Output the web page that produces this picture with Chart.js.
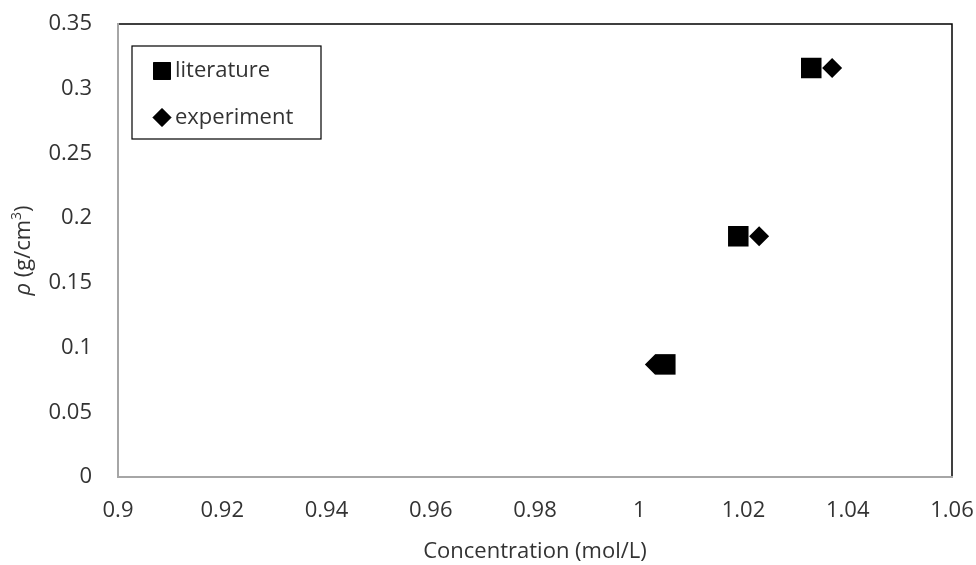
<!DOCTYPE html>
<html>
<head>
<meta charset="utf-8">
<script src="https://cdn.jsdelivr.net/npm/chart.js@4"></script>
<style>
  html, body { margin: 0; padding: 0; background: #fff; }
  #wrap { width: 976px; height: 565px; }
</style>
</head>
<body>
<div id="wrap"><canvas id="chart" width="976" height="565"></canvas></div>
<script>
// Data
const litConc = [1.005, 1.019, 1.033];
const litRho = [0.087, 0.186, 0.316];
const expConc = [1.003, 1.023, 1.037];
const expRho = [0.087, 0.186, 0.316];

const xTickValues = [0.9, 0.92, 0.94, 0.96, 0.98, 1, 1.02, 1.04, 1.06];
const xTickLabels = ["0.9", "0.92", "0.94", "0.96", "0.98", "1", "1.02", "1.04", "1.06"];
const yTickValues = [0, 0.05, 0.1, 0.15, 0.2, 0.25, 0.3, 0.35];
const yTickLabels = ["0", "0.05", "0.1", "0.15", "0.2", "0.25", "0.3", "0.35"];

const FONT = "'Open Sans', sans-serif";
const TEXT = "#333333";

function toPoints(xs, ys) {
    return xs.map((x, i) => ({ x: x, y: ys[i] }));
}

// black frame round the plot area (gray axes are drawn over it by the scales)
const frame = {
    id: "frame",
    beforeDraw(chart) {
        const a = chart.chartArea, ctx = chart.ctx;
        ctx.save();
        ctx.strokeStyle = "#000";
        ctx.lineWidth = 1.5;
        ctx.strokeRect(a.left, a.top, a.right - a.left, a.bottom - a.top);
        ctx.restore();
    }
};

// legend box inside the plot, and y title with italic rho
const extras = {
    id: "extras",
    afterDraw(chart) {
        const a = chart.chartArea, ctx = chart.ctx;
        ctx.save();
        // legend
        const bx = a.left + 14, by = a.top + 22, bw = 189, bh = 93;
        ctx.fillStyle = "#fff";
        ctx.fillRect(bx, by, bw, bh);
        ctx.strokeStyle = "#000";
        ctx.lineWidth = 1.2;
        ctx.strokeRect(bx, by, bw, bh);
        const radii = [12, 9];
        chart.data.datasets.forEach((ds, i) => {
            const cy = by + 25 + i * 46.5;
            ctx.fillStyle = "#000";
            ctx.strokeStyle = "#000";
            ctx.lineWidth = 1;
            Chart.helpers.drawPoint(ctx, { pointStyle: ds.pointStyle, radius: radii[i], borderWidth: 1 }, bx + 30, cy);
            ctx.fill();
            ctx.fillStyle = TEXT;
            ctx.font = "22px " + FONT;
            ctx.textAlign = "left";
            ctx.textBaseline = "middle";
            ctx.fillText(ds.label, bx + 43, cy);
        });
        // y axis title
        ctx.translate(24, (a.top + a.bottom) / 2);
        ctx.rotate(-Math.PI / 2);
        ctx.fillStyle = TEXT;
        ctx.textBaseline = "middle";
        ctx.textAlign = "left";
        const parts = [
            { t: "ρ", f: "italic 22px " + FONT, dy: 0 },
            { t: " (g/cm", f: "22px " + FONT, dy: 0 },
            { t: "3", f: "14px " + FONT, dy: -7 },
            { t: ")", f: "22px " + FONT, dy: 0 }
        ];
        let total = 0;
        parts.forEach(p => { ctx.font = p.f; p.w = ctx.measureText(p.t).width; total += p.w; });
        let x = -total / 2;
        parts.forEach(p => { ctx.font = p.f; ctx.fillText(p.t, x, p.dy); x += p.w; });
        ctx.restore();
    }
};

const ctx = document.getElementById("chart").getContext("2d");
new Chart(ctx, {
    type: "scatter",
    data: {
        datasets: [{
            label: "literature",
            data: toPoints(litConc, litRho),
            pointStyle: "rect",
            pointRadius: 14.5,
            pointHoverRadius: 14.5,
            backgroundColor: "#000",
            borderColor: "#000",
            borderWidth: 0
        }, {
            label: "experiment",
            data: toPoints(expConc, expRho),
            pointStyle: "rectRot",
            pointRadius: 10,
            pointHoverRadius: 10,
            backgroundColor: "#000",
            borderColor: "#000",
            borderWidth: 0
        }]
    },
    options: {
        responsive: false,
        animation: false,
        events: [],
        layout: { autoPadding: false, padding: { top: 24, right: 24, bottom: 0, left: 0 } },
        plugins: {
            legend: { display: false },
            tooltip: { enabled: false }
        },
        scales: {
            x: {
                type: "linear",
                min: 0.9,
                max: 1.06,
                afterBuildTicks: (scale) => { scale.ticks = xTickValues.map(v => ({ value: v })); },
                afterFit: (scale) => {
                    scale.height = 88;
                    scale.paddingLeft = 0;
                    scale.paddingRight = 0;
                },
                grid: { display: false, drawTicks: false },
                border: { display: true, color: "#a6a6a6", width: 2 },
                ticks: {
                    padding: 21,
                    color: TEXT,
                    font: { family: FONT, size: 22 },
                    maxRotation: 0,
                    callback: (v, i) => xTickLabels[i]
                },
                title: {
                    display: true,
                    text: "Concentration (mol/L)",
                    color: TEXT,
                    font: { family: FONT, size: 22 },
                    padding: { top: 0, bottom: 0 }
                }
            },
            y: {
                type: "linear",
                min: 0,
                max: 0.35,
                afterBuildTicks: (scale) => { scale.ticks = yTickValues.map(v => ({ value: v })); },
                afterFit: (scale) => {
                    scale.width = 118;
                    scale.paddingTop = 0;
                    scale.paddingBottom = 0;
                },
                grid: { display: false, drawTicks: false },
                border: { display: true, color: "#a6a6a6", width: 2 },
                ticks: {
                    padding: 26,
                    color: TEXT,
                    font: { family: FONT, size: 22 },
                    callback: (v, i) => yTickLabels[i]
                }
            }
        }
    },
    plugins: [frame, extras]
});
</script>
</body>
</html>
